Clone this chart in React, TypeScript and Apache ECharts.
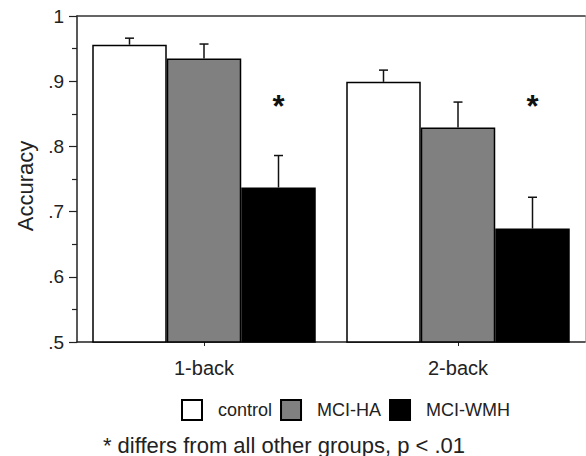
import React, { useEffect, useRef } from "react";
import * as echarts from "echarts";

const CATEGORIES = ["1-back", "2-back"];
const GROUP_NAMES = ["control", "MCI-HA", "MCI-WMH"];
const CONTROL = [0.956, 0.899];
const MCI_HA = [0.935, 0.829];
const MCI_WMH = [0.737, 0.674];
const CONTROL_ERR = [0.01, 0.018];
const MCI_HA_ERR = [0.022, 0.039];
const MCI_WMH_ERR = [0.049, 0.048];
const STAR_LEVEL = [0.868, 0.868];
const FOOTNOTE = "* differs from all other groups, p < .01";

const FONT = "'Liberation Sans', Arial, Helvetica, sans-serif";
const BAR_W = 74.5;
const COLORS = ["#ffffff", "#808080", "#000000"];

export default function App() {
  const ref = useRef<HTMLDivElement>(null);
  useEffect(() => {
    if (!ref.current) return;
    const chart = echarts.init(ref.current, null, { renderer: "svg" });
    const means = [CONTROL, MCI_HA, MCI_WMH];
    const errs = [CONTROL_ERR, MCI_HA_ERR, MCI_WMH_ERR];

    const barSeries = GROUP_NAMES.map((name, g) => ({
      name,
      type: "bar",
      data: means[g],
      barWidth: BAR_W,
      barGap: "0%",
      clip: true,
      itemStyle: { color: COLORS[g], borderColor: "#000", borderWidth: 1.5 },
      z: 2,
    }));

    const errSeries = GROUP_NAMES.map((name, g) => ({
      name: name + "-err",
      type: "custom",
      z: 3,
      encode: { x: 0, y: [1, 2] },
      data: CATEGORIES.map((_, i) => [i, means[g][i], means[g][i] + errs[g][i]]),
      renderItem: (params: any, api: any) => {
        const cat = api.value(0);
        const base = api.coord([cat, api.value(1)]);
        const top = api.coord([cat, api.value(2)]);
        const x = base[0] + (g - 1) * BAR_W;
        const st = { stroke: "#111", lineWidth: 1.5 };
        return {
          type: "group",
          children: [
            { type: "line", shape: { x1: x, y1: base[1], x2: x, y2: top[1] }, style: st },
            { type: "line", shape: { x1: x - 4.5, y1: top[1], x2: x + 4.5, y2: top[1] }, style: st },
          ],
        };
      },
    }));

    const starSeries = {
      name: "stars",
      type: "custom",
      z: 4,
      encode: { x: 0, y: 1 },
      data: CATEGORIES.map((_, i) => [i, STAR_LEVEL[i]]),
      renderItem: (params: any, api: any) => {
        const p = api.coord([api.value(0), api.value(1)]);
        return {
          type: "text",
          x: p[0] + BAR_W,
          y: p[1] + 4,
          style: {
            text: "*",
            font: `bold 31px ${FONT}`,
            fill: "#111",
            align: "center",
            textAlign: "center",
            verticalAlign: "middle",
            textVerticalAlign: "middle",
          },
        };
      },
    };

    chart.setOption({
      animation: false,
      grid: { left: 77, right: 1, top: 16, bottom: 114 },
      legend: {
        data: GROUP_NAMES,
        left: 181,
        top: 399,
        padding: 0,
        itemWidth: 20,
        itemHeight: 20,
        itemGap: 8,
        icon: "rect",
        selectedMode: false,
        textStyle: { fontFamily: FONT, fontSize: 18, color: "#222", padding: [0, 0, 0, 11] },
      },
      xAxis: [
        {
          type: "category",
          data: CATEGORIES,
          axisLine: { lineStyle: { color: "#222", width: 1.5 } },
          axisTick: { show: true, alignWithLabel: true, length: 4, lineStyle: { color: "#222" } },
          axisLabel: { fontFamily: FONT, fontSize: 20, color: "#222", margin: 16 },
        },
        {
          type: "category",
          data: CATEGORIES,
          position: "top",
          axisLine: { lineStyle: { color: "#333", width: 1.5 } },
          axisTick: { show: false },
          axisLabel: { show: false },
        },
      ],
      yAxis: [
        {
          type: "value",
          min: 0.5,
          max: 1,
          interval: 0.1,
          name: "Accuracy",
          nameLocation: "middle",
          nameGap: 41,
          nameTextStyle: { fontFamily: FONT, fontSize: 22, color: "#222", padding: [0, 14, 0, 0] },
          axisLine: { show: true, lineStyle: { color: "#222", width: 1.5 } },
          axisTick: { show: true, length: 8, lineStyle: { color: "#222", width: 1.2 } },
          minorTick: { show: true, splitNumber: 2, length: 5, lineStyle: { color: "#222", width: 1.2 } },
          splitLine: { show: false },
          axisLabel: {
            fontFamily: FONT,
            fontSize: 19,
            color: "#222",
            margin: 13,
            formatter: (v: number) => (Math.abs(v - 1) < 1e-9 ? "1" : v.toFixed(1).replace(/^0/, "")),
          },
        },
        {
          type: "value",
          min: 0.5,
          max: 1,
          interval: 0.1,
          position: "right",
          axisLine: { show: true, lineStyle: { color: "#bbb", width: 1 } },
          axisTick: { show: false },
          axisLabel: { show: false },
          splitLine: { show: false },
        },
      ],
      series: [...barSeries, ...errSeries, starSeries],
      graphic: [
        {
          type: "text",
          x: 284,
          y: 445,
          style: {
            text: FOOTNOTE,
            font: `22px ${FONT}`,
            fill: "#222",
            textAlign: "center",
            textVerticalAlign: "middle",
            align: "center",
            verticalAlign: "middle",
          },
        },
      ],
    });
    return () => chart.dispose();
  }, []);
  return (
    <div
      ref={ref}
      style={{ position: "absolute", left: 0, top: 0, width: 586, height: 456, background: "#fff" }}
    />
  );
}
